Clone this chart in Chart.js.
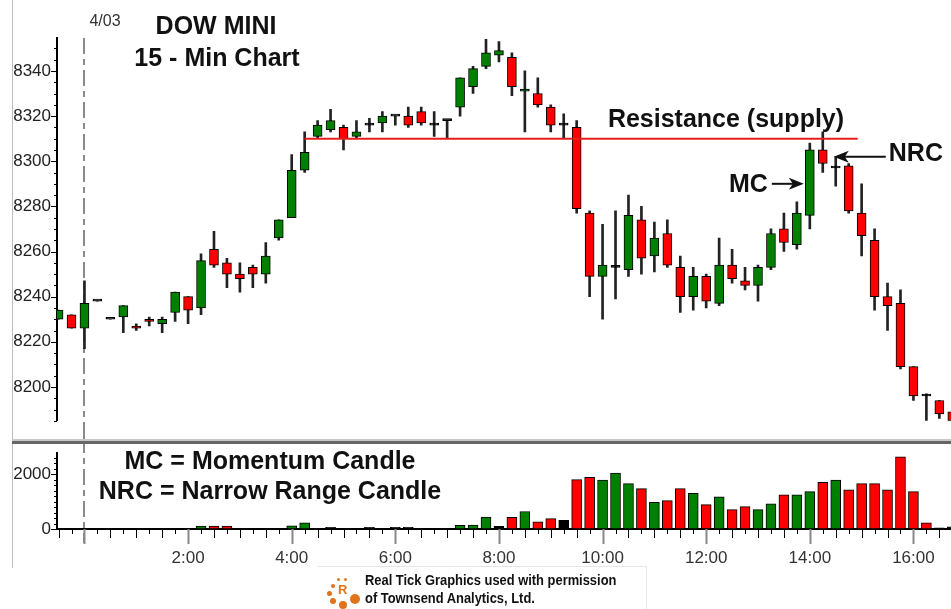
<!DOCTYPE html>
<html>
<head>
<meta charset="utf-8">
<script src="https://cdn.jsdelivr.net/npm/chart.js@4.4.1/dist/chart.umd.min.js"></script>
<style>
  html, body { margin: 0; padding: 0; background: #fff; }
  #wrap { position: relative; width: 951px; height: 609px; overflow: hidden; background: #fff;
          font-family: "Liberation Sans", Arial, sans-serif; }
  #priceBox { position: absolute; left: 0; top: 0; }
  #volBox { position: absolute; left: 0; top: 437px; }
  .frameL { position: absolute; left: 12px; top: 0; width: 1px; height: 568px; background: #bdbdbd; }
  .sepA { position: absolute; left: 12px; top: 439px; width: 939px; height: 2px; background: #c8c8c8; }
  .sepB { position: absolute; left: 12px; top: 441px; width: 939px; height: 3px; background: #666; }
  #credit { position: absolute; left: 318px; top: 566px; width: 328px; height: 43px;
            border-top: 1px solid #e6e6e6; border-right: 1px solid #e6e6e6; }
  #credit span { position: absolute; border-radius: 50%; background: #e0731c; }
  #credit .R { position: absolute; left: 20px; top: 15px; color: #e0731c; font: bold 13px "Liberation Sans", Arial, sans-serif; }
  #credit .txt { position: absolute; left: 47px; top: 4px; font: bold 15px/18px "Liberation Sans", Arial, sans-serif;
                 color: #111; transform: scaleX(0.86); transform-origin: left top; white-space: nowrap; }
</style>
</head>
<body>
<div id="wrap">
  <canvas id="priceBox" width="951" height="437"></canvas>
  <canvas id="volBox" width="951" height="133"></canvas>
  <div class="frameL"></div>
  <div class="sepA"></div>
  <div class="sepB"></div>
  <div id="credit">
    <span style="left:19px;top:11px;width:3px;height:3px"></span>
    <span style="left:26px;top:11px;width:3px;height:3px"></span>
    <span style="left:13px;top:17px;width:4px;height:4px"></span>
    <span style="left:9px;top:24px;width:5px;height:5px"></span>
    <span style="left:12px;top:31px;width:6px;height:6px"></span>
    <span style="left:21px;top:34px;width:8px;height:8px"></span>
    <span style="left:32px;top:27px;width:10px;height:10px"></span>
    <b class="R">R</b>
    <div class="txt">Real Tick Graphics used with permission<br>of Townsend Analytics, Ltd.</div>
  </div>
</div>
<script>
// 15 minute bars, 4/03 (first two are the previous evening)
const times = ['23:30','23:45','0:00','0:15','0:30','0:45','1:00','1:15','1:30','1:45',
  '2:00','2:15','2:30','2:45','3:00','3:15','3:30','3:45','4:00','4:15',
  '4:30','4:45','5:00','5:15','5:30','5:45','6:00','6:15','6:30','6:45',
  '7:00','7:15','7:30','7:45','8:00','8:15','8:30','8:45','9:00','9:15',
  '9:30','9:45','10:00','10:15','10:30','10:45','11:00','11:15','11:30','11:45',
  '12:00','12:15','12:30','12:45','13:00','13:15','13:30','13:45','14:00','14:15',
  '14:30','14:45','15:00','15:15','15:30','15:45','16:00','16:15','16:30','16:45'];

const opens = [8230,8232,8226,8238,8230,8231,8227,8230,8228,8233,
  8240,8235,8261,8255,8250,8253,8250,8266,8275,8296,
  8311,8314,8315,8311,8316,8317,8320,8320,8322,8316,
  8318,8324,8333,8342,8347,8346,8331,8330,8324,8316,
  8315,8277,8249,8253,8252,8274,8258,8268,8253,8240,
  8249,8237,8254,8247,8245,8253,8270,8263,8276,8305,
  8297,8298,8277,8265,8240,8237,8209,8196,8194,8189];
const highs = [8234,8232,8247,8238,8230,8236,8228,8231,8231,8242,
  8240,8259,8269,8257,8255,8254,8264,8274,8303,8313,
  8318,8323,8316,8318,8319,8322,8320,8324,8324,8322,
  8318,8337,8342,8354,8353,8348,8340,8337,8325,8321,
  8318,8278,8272,8278,8285,8280,8273,8274,8258,8253,
  8250,8266,8261,8253,8254,8270,8277,8282,8308,8313,
  8302,8299,8290,8270,8246,8243,8209,8197,8194,8189];
const lows = [8230,8226,8217,8238,8230,8224,8225,8227,8224,8229,
  8228,8232,8253,8244,8242,8244,8246,8265,8275,8295,
  8310,8313,8305,8310,8313,8313,8316,8315,8316,8311,
  8310,8320,8330,8341,8344,8329,8313,8324,8313,8310,
  8277,8240,8230,8239,8249,8250,8251,8253,8233,8234,
  8235,8236,8246,8243,8238,8252,8260,8261,8270,8295,
  8289,8277,8258,8234,8225,8208,8194,8185,8186,8185];
const closes = [8234,8226,8237,8238,8230,8236,8226,8229,8230,8242,
  8234,8256,8254,8250,8248,8250,8258,8274,8296,8304,
  8316,8318,8310,8313,8316,8320,8320,8316,8317,8316,
  8318,8337,8341,8348,8349,8333,8332,8325,8316,8316,
  8279,8249,8254,8253,8276,8257,8266,8254,8240,8249,
  8238,8254,8248,8245,8253,8268,8264,8277,8305,8299,
  8297,8278,8267,8240,8236,8209,8196,8196,8188,8185];

const volumes = [0,0,0,0,0,0,0,0,0,0,
  0,110,110,110,0,0,0,0,120,230,
  0,60,0,0,60,0,60,60,0,0,
  0,130,140,440,100,430,640,260,380,320,
  1810,1890,1790,2050,1660,1480,980,1040,1480,1310,
  890,1180,710,820,710,920,1250,1250,1370,1710,
  1790,1430,1660,1660,1430,2640,1370,230,40,80];
// tick direction of each volume bar: 1 up, -1 down, 0 unchanged
const volumeDir = [0,0,0,0,0,0,0,0,0,0,
  0,1,-1,-1,0,0,0,0,1,1,
  0,0,0,0,0,0,0,0,0,0,
  0,1,1,1,0,-1,1,-1,-1,0,
  -1,-1,1,1,1,-1,1,-1,-1,1,
  -1,1,-1,-1,1,1,-1,1,1,-1,
  1,-1,-1,-1,-1,-1,-1,-1,0,0];

const timeTickLabels = ['2:00','4:00','6:00','8:00','10:00','12:00','14:00','16:00'];
const priceTickLabels = [8200,8220,8240,8260,8280,8300,8320,8340];
const volumeTickLabels = [0,2000];

const resistanceLevel = 8310;
const resistanceSpan = [19, 61.7]; // bar indexes the line runs between
const dayBreakIndex = 2;           // 0:00 on 4/03
const mcIndex = 58, nrcIndex = 59;

const UP = '#008000', DOWN = '#ff0000', FLAT = '#000';
const X_MIN = -0.12, X_MAX = 68.9;
const AXIS_W = 57;

function every(from, to, step) {
  const out = [];
  for (let v = from; v <= to; v += step) out.push(v);
  return out;
}

// short/long tick marks on the value axis and the time axis
const tickMarks = {
  id: 'tickMarks',
  afterDraw(chart, args, opts) {
    const {ctx, chartArea: a} = chart;
    const ys = chart.scales.y, xs = chart.scales.x;
    ctx.save();
    ctx.strokeStyle = '#000';
    ctx.lineWidth = 1;
    opts.yValues.forEach(v => {
      const py = Math.round(ys.getPixelForValue(v)) + 0.5;
      const len = opts.yLabels.includes(v) ? 6 : 3;
      ctx.beginPath(); ctx.moveTo(a.left - len, py); ctx.lineTo(a.left, py); ctx.stroke();
    });
    if (opts.timeTicks) {
      times.forEach((t, i) => {
        const px = Math.round(xs.getPixelForValue(i)) + 0.5;
        let len = 5;
        ctx.strokeStyle = '#000'; ctx.lineWidth = 1;
        if (timeTickLabels.includes(t) || i === dayBreakIndex) {
          len = 15; ctx.strokeStyle = '#888'; ctx.lineWidth = 2;
        } else if (t.endsWith(':00') || t.endsWith(':30')) {
          len = 9;
        }
        ctx.beginPath(); ctx.moveTo(px, a.bottom); ctx.lineTo(px, a.bottom + len); ctx.stroke();
      });
    }
    ctx.restore();
  }
};

const dayBreak = {
  id: 'dayBreak',
  beforeDatasetsDraw(chart, args, opts) {
    const {ctx, chartArea: a} = chart;
    const px = Math.round(chart.scales.x.getPixelForValue(dayBreakIndex));
    ctx.save();
    ctx.strokeStyle = '#8a8a8a';
    ctx.lineWidth = 2;
    ctx.setLineDash([16, 5, 6, 5]);
    ctx.beginPath();
    ctx.moveTo(px, opts.fromTop ? a.top : 0);
    ctx.lineTo(px, opts.fromTop ? chart.height : a.bottom + 14);
    ctx.stroke();
    ctx.restore();
  }
};

function arrow(ctx, x1, y, x2) {
  const dir = Math.sign(x2 - x1);
  ctx.beginPath(); ctx.moveTo(x1, y); ctx.lineTo(x2 - dir * 8, y); ctx.stroke();
  ctx.beginPath();
  ctx.moveTo(x2, y);
  ctx.lineTo(x2 - dir * 15, y - 6);
  ctx.lineTo(x2 - dir * 11, y);
  ctx.lineTo(x2 - dir * 15, y + 6);
  ctx.closePath();
  ctx.fill();
}

const priceNotes = {
  id: 'priceNotes',
  afterDatasetsDraw(chart) {
    const {ctx, scales: {x, y}} = chart;
    ctx.save();
    ctx.strokeStyle = '#111';
    ctx.lineWidth = 2;
    ctx.textBaseline = 'middle';

    ctx.font = '16px "Liberation Sans", Arial, sans-serif';
    ctx.fillStyle = '#333';
    ctx.textAlign = 'left';
    ctx.fillText('4/03', x.getPixelForValue(dayBreakIndex) + 5, 22);

    ctx.fillStyle = '#111';
    ctx.font = 'bold 25px "Liberation Sans", Arial, sans-serif';
    ctx.textAlign = 'center';
    ctx.fillText('DOW MINI', 216, 27);
    ctx.fillText('15 - Min Chart', 217, 59);
    ctx.fillText('Resistance (supply)', 726, 120);

    const mcY = y.getPixelForValue(8290);
    const mcTip = x.getPixelForValue(mcIndex) - 6;
    arrow(ctx, mcTip - 32, mcY, mcTip);
    ctx.textAlign = 'right';
    ctx.fillText('MC', mcTip - 36, mcY + 1);

    const nrcY = y.getPixelForValue(8302);
    const nrcTip = x.getPixelForValue(nrcIndex) + 11;
    arrow(ctx, nrcTip + 52, nrcY, nrcTip);
    ctx.textAlign = 'left';
    ctx.fillText('NRC', nrcTip + 55, nrcY - 3);
    ctx.restore();
  }
};

const volumeNotes = {
  id: 'volumeNotes',
  afterDatasetsDraw(chart) {
    const ctx = chart.ctx;
    ctx.save();
    ctx.fillStyle = '#111';
    ctx.font = 'bold 25px "Liberation Sans", Arial, sans-serif';
    ctx.textAlign = 'center';
    ctx.textBaseline = 'middle';
    ctx.fillText('MC = Momentum Candle', 270, 25);
    ctx.fillText('NRC = Narrow Range Candle', 270, 55);
    ctx.restore();
  }
};

const bodies = opens.map((o, i) => ({x: i, y: [o, closes[i]]}));
const wicks = lows.map((l, i) => ({x: i, y: [l, highs[i]]}));
const bodyColors = opens.map((o, i) => closes[i] > o ? UP : closes[i] < o ? DOWN : FLAT);

const priceMin = 8185, priceMax = 8354.6;

new Chart(document.getElementById('priceBox'), {
  type: 'bar',
  data: {
    datasets: [
      {
        type: 'line',
        data: resistanceSpan.map(i => ({x: i, y: resistanceLevel})),
        borderColor: '#e81c1c',
        borderWidth: 2,
        pointRadius: 0,
        order: 0
      },
      {
        data: bodies,
        backgroundColor: bodyColors,
        borderColor: '#000',
        borderWidth: 1,
        borderSkipped: false,
        barThickness: 9,
        minBarLength: 2,
        grouped: false,
        clip: 0,
        order: 1
      },
      {
        data: wicks,
        backgroundColor: '#222',
        borderWidth: 0,
        barThickness: 2,
        grouped: false,
        clip: 0,
        order: 2
      }
    ]
  },
  options: {
    responsive: false,
    animation: false,
    devicePixelRatio: 1,
    events: [],
    layout: { padding: { top: 38, bottom: 9, left: 0, right: 0 } },
    plugins: {
      legend: { display: false },
      tooltip: { enabled: false },
      dayBreak: { fromTop: true },
      tickMarks: { yValues: every(8185, 8350, 5), yLabels: priceTickLabels }
    },
    scales: {
      x: { type: 'linear', min: X_MIN, max: X_MAX, offset: false, display: false },
      y: {
        min: priceMin, max: priceMax,
        afterBuildTicks: s => { s.ticks = every(8185, 8350, 5).map(v => ({value: v})); },
        afterFit: s => { s.width = AXIS_W; },
        grid: { display: false, drawTicks: false },
        border: { display: true, color: '#000', width: 2 },
        ticks: {
          autoSkip: false,
          padding: 6,
          color: '#222',
          font: { size: 17, family: '"Liberation Sans", Arial, sans-serif' },
          callback: v => priceTickLabels.includes(v) ? String(v) : ''
        }
      }
    }
  },
  plugins: [dayBreak, tickMarks, priceNotes]
});

new Chart(document.getElementById('volBox'), {
  type: 'bar',
  data: {
    datasets: [{
      data: volumes.map((v, i) => ({x: i, y: v})),
      backgroundColor: volumeDir.map(d => d > 0 ? UP : d < 0 ? DOWN : FLAT),
      borderColor: '#000',
      borderWidth: 1,
      borderSkipped: false,
      barThickness: 10,
      grouped: false,
      clip: 0
    }]
  },
  options: {
    responsive: false,
    animation: false,
    devicePixelRatio: 1,
    events: [],
    layout: { padding: { top: 15, bottom: 0, left: 0, right: 0 } },
    plugins: {
      legend: { display: false },
      tooltip: { enabled: false },
      dayBreak: { fromTop: false },
      tickMarks: { yValues: every(0, 2600, 200), yLabels: volumeTickLabels, timeTicks: true }
    },
    scales: {
      x: {
        type: 'linear', min: X_MIN, max: X_MAX, offset: false,
        afterBuildTicks: s => { s.ticks = times.map((t, i) => ({value: i})); },
        afterFit: s => { s.height = 41; s.paddingLeft = 0; s.paddingRight = 0; },
        grid: { display: false, drawTicks: false },
        border: { display: true, color: '#000', width: 2 },
        ticks: {
          autoSkip: false, maxRotation: 0, padding: 19,
          color: '#333',
          font: { size: 17, family: '"Liberation Sans", Arial, sans-serif' },
          callback: v => timeTickLabels.includes(times[v]) ? times[v] : ''
        }
      },
      y: {
        min: 0, max: 2775,
        afterBuildTicks: s => { s.ticks = every(0, 2600, 200).map(v => ({value: v})); },
        afterFit: s => { s.width = AXIS_W; },
        grid: { display: false, drawTicks: false },
        border: { display: true, color: '#000', width: 2 },
        ticks: {
          autoSkip: false,
          padding: 6,
          color: '#222',
          font: { size: 17, family: '"Liberation Sans", Arial, sans-serif' },
          callback: v => volumeTickLabels.includes(v) ? String(v) : ''
        }
      }
    }
  },
  plugins: [dayBreak, tickMarks, volumeNotes]
});
</script>
</body>
</html>
